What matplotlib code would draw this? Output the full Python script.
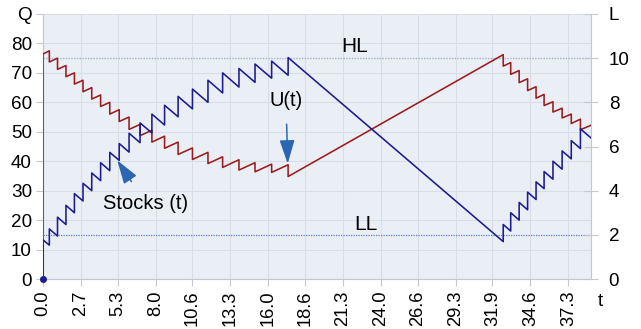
import matplotlib
matplotlib.use("Agg")
import matplotlib.pyplot as plt

plt.rcParams['font.family'] = ['Liberation Sans', 'DejaVu Sans']

# event times (deliveries): stock jumps up, U(t) drops
event_t = [0.0, 0.45, 1.03, 1.63, 2.23, 2.84, 3.46, 4.09, 4.74, 5.41, 6.11,
           6.89, 7.73, 8.63, 9.59, 10.61, 11.71, 12.75, 13.91, 15.05, 16.23,
           17.4, 32.67, 33.2, 33.8, 34.4, 35.0, 35.57, 36.2, 36.85, 37.5, 38.15]

stock_before = [0, 11.5, 14.6, 18.5, 22.5, 26.5, 30, 33.4, 36.8, 40.3, 43.1,
                46.3, 49.6, 52.3, 55.1, 57.8, 60, 63.2, 65.2, 66.8, 68.2,
                69.2, 12.7, 16.3, 20, 23.5, 27, 30.7, 33.9, 37.3, 40.8, 44.3]
stock_after = [13.3, 17, 21, 25, 29, 32.5, 36, 39.5, 43, 46, 49.5,
               53, 56, 59, 62, 64.5, 67.5, 70, 71.5, 73, 74,
               75.2, 18.5, 22.5, 26, 29.5, 33, 36.5, 40, 43.5, 47, 51]

u_before = [0, 77.5, 75, 72.5, 70, 67.5, 65, 62.5, 60, 57.5, 55,
            52.5, 50.5, 48.5, 46.5, 44.5, 43, 41.5, 40.5, 39.5, 39,
            38.8, 76.2, 73.5, 70.8, 68, 65.3, 62.7, 60.2, 58, 56, 54.3]
u_after = [76.4, 73.7, 71.2, 68.7, 66.2, 63.6, 61.1, 58.6, 56, 53.5, 50.8,
           48.7, 46.5, 44.4, 42.3, 40.6, 39.2, 37.9, 37, 36.4, 36.2,
           34.8, 72.3, 69.5, 66.7, 64, 61.4, 58.9, 56.7, 54.7, 52.8, 50.7]

t_end = 38.9
stock_end = 47.9
u_end = 52.2

HL = 75
LL = 15

q_ticks = [0, 10, 20, 30, 40, 50, 60, 70, 80, 90]
q_labels = ['0', '10', '20', '30', '40', '50', '60', '70', '80', 'Q']
l_ticks = [0, 2, 4, 6, 8, 10, 12]
l_labels = ['0', '2', '4', '6', '8', '10', 'L']
t_labels = ['0.0', '2.7', '5.3', '8.0', '10.6', '13.3', '16.0', '18.6',
            '21.3', '24.0', '26.6', '29.3', '31.9', '34.6', '37.3']


def step_path(times, before, after, t_last, v_last):
    xs, ys = [], []
    for t, b, a in zip(times, before, after):
        xs += [t, t]
        ys += [b, a]
    xs.append(t_last)
    ys.append(v_last)
    return xs, ys


red = '#9b1c1f'
blue = '#1c1c8e'
arrow_c = '#2b66b1'
grey = '#c4c8ce'
fs = 14.5

fig = plt.figure(figsize=(6.41, 3.29), dpi=100)
ax = fig.add_axes([43 / 641, 1 - 279 / 329, 548 / 641, 265 / 329])
ax.set_facecolor('#eaeef5')

ax.axhline(HL, color='#a3b3cc', lw=1.0, ls=(0, (1, 1)), zorder=1)
ax.axhline(LL, color='#5c80c6', lw=0.9, ls=(0, (1, 1)), zorder=1)

ux, uy = step_path(event_t, u_before, u_after, t_end, u_end)
sx, sy = step_path(event_t, stock_before, stock_after, t_end, stock_end)
ax.plot(ux, uy, color=red, lw=1.15, zorder=3)
ax.plot(sx, sy, color=blue, lw=1.15, zorder=4)
ax.plot([event_t[0]], [stock_before[0]], 'o', color=blue, ms=4, zorder=5,
        clip_on=False)

ax.set_xlim(0, t_end)
ax.set_ylim(0, 90)

ax.set_yticks(q_ticks)
ax.set_yticklabels(q_labels)
ax.set_xticks([float(s) for s in t_labels])
ax.set_xticklabels(t_labels, rotation=90)
ax.grid(True, color='#d8dde6', lw=0.8)
ax.set_axisbelow(True)

ax.tick_params(axis='y', direction='out', length=5, width=0.8, color=grey,
               labelsize=13.6, pad=3)
ax.tick_params(axis='x', direction='out', length=5, width=0.8, color=grey,
               labelsize=13.2, pad=3.5)
for s in ['left', 'bottom', 'right']:
    ax.spines[s].set_color(grey)
ax.spines['top'].set_visible(False)

ax2 = ax.twinx()
ax2.set_ylim(0, 12)
ax2.set_yticks(l_ticks)
ax2.set_yticklabels(l_labels)
ax2.tick_params(axis='y', direction='inout', length=9.5, width=0.8,
                color=grey, labelsize=13.6, pad=8)
for s in ['left', 'bottom', 'right', 'top']:
    ax2.spines[s].set_visible(False)

ax.text(1.012, -0.086, 't', transform=ax.transAxes, fontsize=13.6,
        ha='left', va='center')

ax.text(22.1, 79, 'HL', fontsize=fs + 0.5, ha='center', va='center')
ax.text(22.9, 18.4, 'LL', fontsize=fs + 0.5, ha='center', va='center')

head = '-|>,head_width=0.32,head_length=1.0'
ax.annotate('U(t)', xy=(17.37, 39.2), xytext=(17.25, 60.5),
            fontsize=fs, ha='center', va='center',
            arrowprops=dict(arrowstyle=head, color=arrow_c, lw=1.1,
                            shrinkA=8, shrinkB=0),
            zorder=6)
ax.annotate('Stocks (t)', xy=(5.27, 40.3), xytext=(7.3, 25.8),
            fontsize=fs, ha='center', va='center',
            arrowprops=dict(arrowstyle=head, color=arrow_c, lw=1.1,
                            shrinkA=8, shrinkB=0),
            zorder=6)

fig.savefig('out.png', dpi=100, facecolor='white')
